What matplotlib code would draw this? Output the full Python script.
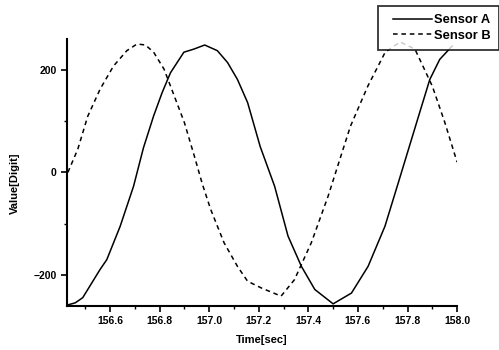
import numpy as np
import matplotlib
matplotlib.use('Agg')
import matplotlib.pyplot as plt
from matplotlib.lines import Line2D
from matplotlib.legend_handler import HandlerLine2D
from matplotlib.ticker import MultipleLocator, FormatStrFormatter

# ── Data ─────────────────────────────────────────────────────────────────────
time_a = [156.43, 156.46, 156.49, 156.56, 156.587, 156.641, 156.695, 156.735, 156.776,
          156.81, 156.844, 156.898, 156.938, 156.982, 157.033, 157.074, 157.114,
          157.155, 157.206, 157.264, 157.318, 157.372, 157.426, 157.50, 157.574,
          157.641, 157.709, 157.763, 157.804, 157.85, 157.89, 157.93, 157.98]
sensor_a = [-258, -254, -244, -189, -170, -105, -27, 48, 110,
            155, 194, 234, 240, 248, 237, 214, 181,
            136, 50, -27, -124, -183, -228, -256, -235,
            -183, -105, -20, 45, 118, 181, 220, 246]

time_b = [156.43, 156.47, 156.51, 156.56, 156.614, 156.668, 156.709, 156.743, 156.776,
          156.818, 156.859, 156.90, 156.94, 156.972, 157.006, 157.06, 157.114,
          157.155, 157.21, 157.29, 157.344, 157.412, 157.48, 157.54, 157.57,
          157.64, 157.71, 157.77, 157.83, 157.90, 157.95, 158.00]
sensor_b = [0, 45, 109, 162, 207, 237, 250, 248, 234,
            201, 149, 97, 32, -22, -72, -137, -183,
            -212, -225, -241, -209, -137, -46, 45, 90,
            168, 234, 254, 240, 168, 98, 20]

# ── Style ───────────────────────────────────────────────────────────────────
plt.rcParams.update({
    'font.family': ['Liberation Sans', 'DejaVu Sans'],
    'font.weight': 'bold',
    'font.size': 7.5,
})

fig = plt.figure(figsize=(4.99, 3.5), dpi=100)
ax = fig.add_axes([0.134, 0.126, 0.782, 0.763])

ax.plot(time_a, sensor_a, color='black', lw=1.1, ls='-', label='Sensor A')
ax.plot(time_b, sensor_b, color='black', lw=1.1, ls=(0, (3, 2.5)), label='Sensor B')

ax.set_xlim(156.426, 158.0)
ax.set_ylim(-260, 260)
ax.xaxis.set_major_locator(MultipleLocator(0.2))
ax.xaxis.set_minor_locator(MultipleLocator(0.1))
ax.yaxis.set_major_locator(MultipleLocator(200))
ax.yaxis.set_minor_locator(MultipleLocator(100))
ax.xaxis.set_major_formatter(FormatStrFormatter('%.1f'))

for side in ('top', 'right'):
    ax.spines[side].set_visible(False)
for side in ('left', 'bottom'):
    ax.spines[side].set_linewidth(1.5)
ax.tick_params(which='major', direction='out', length=4, width=1.2, labelsize=7.5)
ax.tick_params(which='minor', direction='out', length=2.5, width=1.0)

ax.set_xlabel('Time[sec]', fontsize=8, fontweight='bold', labelpad=6)
ax.set_ylabel('Value[Digit]', fontsize=8, fontweight='bold')
ax.yaxis.set_label_coords(-0.12, 0.46)

# legend sits partly above the axes, at the top-right corner of the figure
leg = fig.legend(loc='upper right', bbox_to_anchor=(0.999, 0.982), fontsize=9.3,
                 frameon=True, fancybox=False, edgecolor='black',
                 handlelength=3.55, borderpad=0.6, labelspacing=0.3,
                 handletextpad=0.2, borderaxespad=0,
                 handler_map={Line2D: HandlerLine2D(xpad=0.6)})
leg.get_frame().set_linewidth(1.3)

fig.savefig('out.png', dpi=100)
